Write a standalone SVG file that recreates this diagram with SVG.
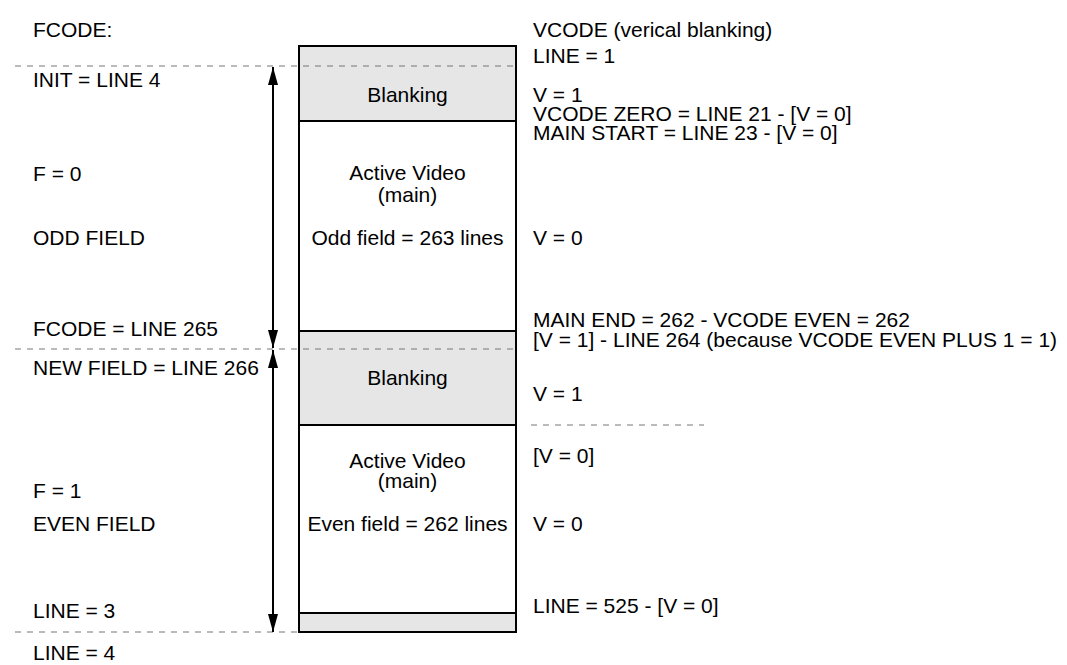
<svg xmlns="http://www.w3.org/2000/svg" width="1067" height="665" viewBox="0 0 1067 665">
<defs>
<style>
text{font-family:"Liberation Sans",Arial,sans-serif;font-size:21px;fill:#000}
.c{text-anchor:middle}
.blank{fill:#e6e6e6;stroke:#000;stroke-width:2}
.act{fill:#fff;stroke:#000;stroke-width:2}
.dash{stroke:#777;stroke-width:1;stroke-dasharray:6,6;fill:none}
.arr{stroke:#000;stroke-width:2;fill:none}
</style>
<marker id="ah" viewBox="0 0 18 10" refX="18" refY="5" markerWidth="18" markerHeight="10" markerUnits="userSpaceOnUse" orient="auto-start-reverse">
<path d="M0,0 L18,5 L0,10 Z" fill="#000"/>
</marker>
</defs>
<rect width="1067" height="665" fill="#fff"/>
<g id="blanking1"><rect class="blank" x="299" y="46" width="217" height="75"/><text class="c" x="407.5" y="102">Blanking</text></g>
<g id="active1"><rect class="act" x="299" y="121" width="217" height="210"/><text class="c" x="407.5" y="180">Active Video</text><text class="c" x="407.5" y="202">(main)</text><text class="c" x="407.5" y="245">Odd field = 263 lines</text></g>
<g id="blanking2"><rect class="blank" x="299" y="331" width="217" height="94"/><text class="c" x="407.5" y="385">Blanking</text></g>
<g id="active2"><rect class="act" x="299" y="425" width="217" height="188"/><text class="c" x="407.5" y="468">Active Video</text><text class="c" x="407.5" y="488">(main)</text><text class="c" x="407.5" y="531">Even field = 262 lines</text></g>
<g id="blanking3"><rect class="blank" x="299" y="613" width="217" height="19"/></g>
<g id="connectors">
<line class="dash" x1="15" y1="66" x2="516" y2="66"/>
<line class="dash" x1="15" y1="349" x2="516" y2="349"/>
<line class="dash" x1="531" y1="425" x2="704" y2="425"/>
<line class="dash" x1="15" y1="632" x2="299" y2="632"/>
<line class="arr" x1="273" y1="67" x2="273" y2="348" marker-start="url(#ah)" marker-end="url(#ah)"/>
<line class="arr" x1="273" y1="350" x2="273" y2="632" marker-start="url(#ah)" marker-end="url(#ah)"/>
</g>
<g id="labels-left">
<text x="33" y="37">FCODE:</text>
<text x="33" y="87">INIT = LINE 4</text>
<text x="33" y="181">F = 0</text>
<text x="33" y="245">ODD FIELD</text>
<text x="33" y="336">FCODE = LINE 265</text>
<text x="33" y="375">NEW FIELD = LINE 266</text>
<text x="33" y="498">F = 1</text>
<text x="33" y="531">EVEN FIELD</text>
<text x="33" y="618">LINE = 3</text>
<text x="33" y="660">LINE = 4</text>
</g>
<g id="labels-right">
<text x="533" y="37">VCODE (verical blanking)</text>
<text x="533" y="63">LINE = 1</text>
<text x="533" y="102">V = 1</text>
<text x="533" y="121">VCODE ZERO = LINE 21 - [V = 0]</text>
<text x="533" y="140">MAIN START = LINE 23 - [V = 0]</text>
<text x="533" y="245">V = 0</text>
<text x="533" y="327">MAIN END = 262 - VCODE EVEN = 262</text>
<text x="533" y="347">[V = 1] - LINE 264 (because VCODE EVEN PLUS 1 = 1)</text>
<text x="533" y="401">V = 1</text>
<text x="533" y="463">[V = 0]</text>
<text x="533" y="531">V = 0</text>
<text x="533" y="613">LINE = 525 - [V = 0]</text>
</g>
</svg>
